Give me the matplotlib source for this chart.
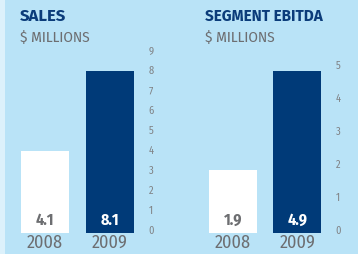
import matplotlib
matplotlib.use("Agg")
import matplotlib.pyplot as plt
import matplotlib.transforms as mtransforms
from matplotlib.patches import Rectangle

# data
years = ["2008", "2009"]
sales = [4.1, 8.1]
ebitda = [1.9, 4.9]
sales_ticks = list(range(0, 10))
ebitda_ticks = list(range(0, 6))

BG = "#b9e3f7"
STRIP = "#dcf1fb"
NAVY = "#003a78"
TITLE = "#0b3c7a"
GREY = "#6d6e71"
COND = ["Fira Sans Condensed", "DejaVu Sans"]
BOLD = ["Fira Sans", "DejaVu Sans"]

W, H = 358, 254
fig = plt.figure(figsize=(W / 100, H / 100), dpi=100)
fig.patch.set_facecolor(BG)
fig.patches.append(Rectangle((0, 0), 5 / W, 1, transform=fig.transFigure,
                             facecolor=STRIP, edgecolor="none"))


def px_axes(x0, x1, y_top, y_bot):
    return fig.add_axes([x0 / W, 1 - y_bot / H, (x1 - x0) / W, (y_bot - y_top) / H])


def panel(ax, vals, ticks, top, title, tx, size):
    ax.set_facecolor("none")
    ax.bar(range(len(vals)), vals, width=0.74, color=["white", NAVY], zorder=2)
    ax.set_xlim(-0.538, 1.508)
    ax.set_ylim(0, top)
    for s in ax.spines.values():
        s.set_visible(False)
    ax.yaxis.tick_right()
    ax.set_yticks(ticks)
    ax.tick_params(axis="y", length=0, pad=4, labelsize=7.5, labelcolor="#808285")
    shift = mtransforms.ScaledTranslation(0, 3 / 100, fig.dpi_scale_trans)
    for lab in ax.get_yticklabels():
        lab.set_transform(lab.get_transform() + shift)
        lab.set_family(COND)
    ax.set_xticks(range(len(vals)))
    ax.set_xticklabels(years, family=COND, fontsize=13, color=GREY)
    ax.tick_params(axis="x", length=0, pad=0.5)
    for i, v in enumerate(vals):
        ax.annotate(f"{v:.1f}", (i, 0), xytext=(0, 5.8), textcoords="offset points",
                    ha="center", va="baseline", fontsize=11.5, fontweight="bold",
                    family=COND, color=GREY if i == 0 else "white")
    fig.text(tx / W, 1 - 21 / H, title, fontsize=size, fontweight="bold",
             family=BOLD, color=TITLE, va="baseline", ha="left")
    fig.text(tx / W, 1 - 42.5 / H, "$ MILLIONS", fontsize=11, family=COND,
             color=GREY, va="baseline", ha="left")


ax1 = px_axes(10, 143, 49, 233)
panel(ax1, sales, sales_ticks, 9.2, "SALES", 20, 12)

ax2 = px_axes(198, 330, 61, 233)
panel(ax2, ebitda, ebitda_ticks, 5.2, "SEGMENT EBITDA", 205, 11)

fig.savefig("out.png", dpi=100, facecolor=BG)
